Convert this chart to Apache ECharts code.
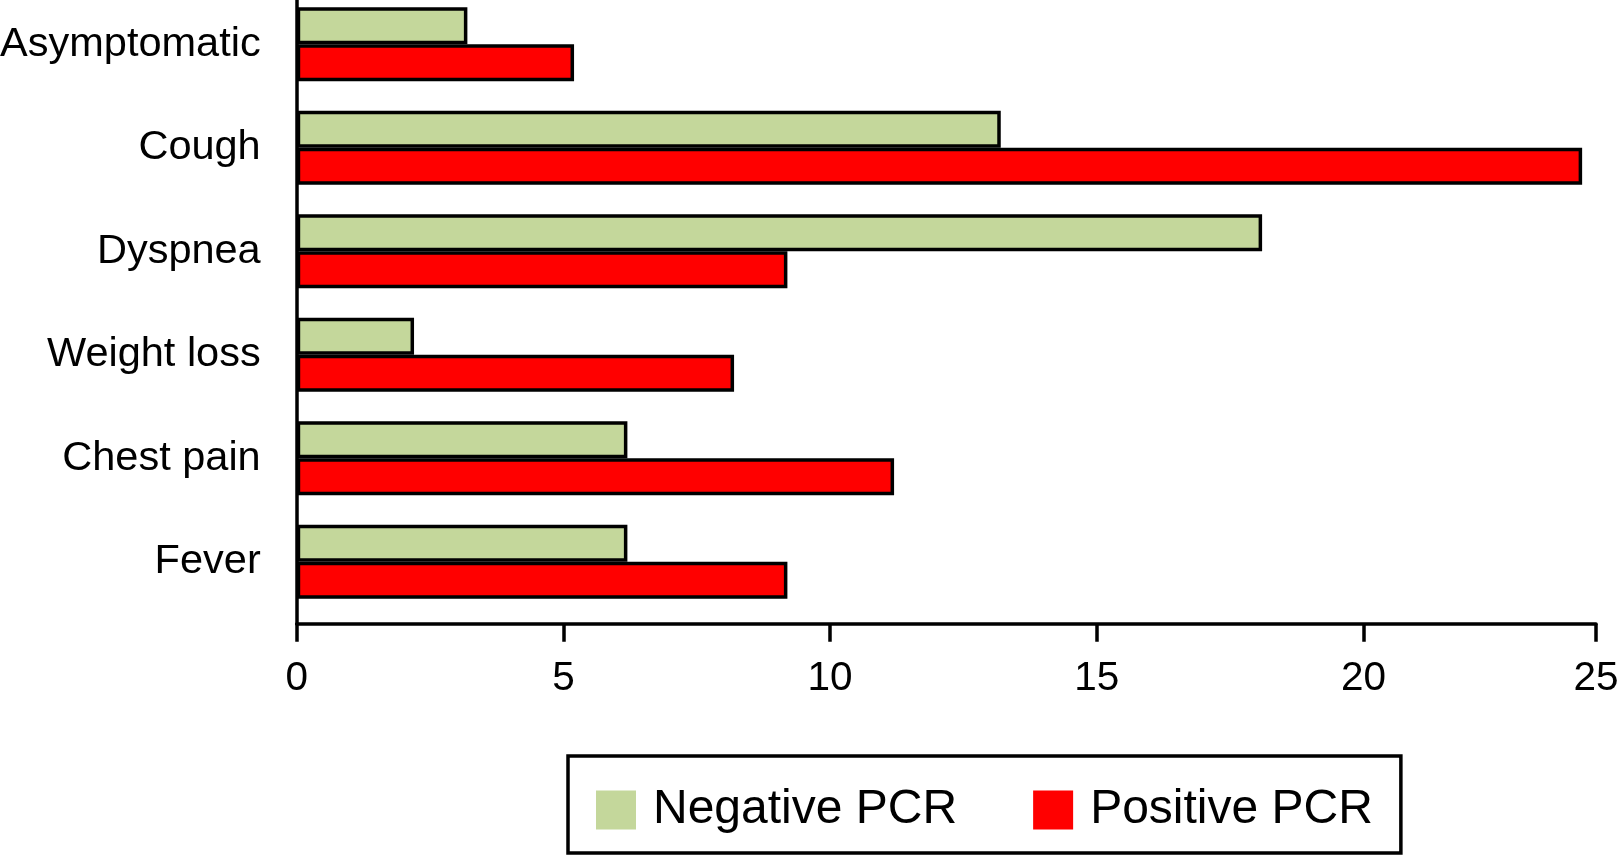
<!DOCTYPE html>
<html><head><meta charset="utf-8">
<script src="https://cdn.jsdelivr.net/npm/echarts@6/dist/echarts.min.js"></script>
<style>html,body{margin:0;padding:0;background:#fff}#c{width:1620px;height:855px}</style>
</head><body><div id="c"></div>
<script>
const categories = ['Asymptomatic', 'Cough', 'Dyspnea', 'Weight loss', 'Chest pain', 'Fever'];
const negativePCR = [3.2, 13.2, 18.1, 2.2, 6.2, 6.2];
const positivePCR = [5.2, 24.1, 9.2, 8.2, 11.2, 9.2];
const seriesNames = ['Negative PCR', 'Positive PCR'];
const xTickLabels = ['0', '5', '10', '15', '20', '25'];
const xMin = 0, xMax = 24.36, xInterval = 5;

const FONT = '"Liberation Sans", Arial, Helvetica, sans-serif';
const chart = echarts.init(document.getElementById('c'), null, {renderer: 'canvas'});
const barBorder = {borderColor: '#000', borderWidth: 3.5};
chart.setOption({
  animation: false,
  backgroundColor: '#fff',
  textStyle: {fontFamily: FONT},
  grid: [
    {left: 296.7, right: 24, top: -7.44, height: 620.9, containLabel: false, outerBoundsMode: 'none'},
    {left: 296.7, right: 24, top: 0, height: 623.7, containLabel: false, outerBoundsMode: 'none'}
  ],
  xAxis: [
    {gridIndex: 0, type: 'value', min: xMin, max: xMax, interval: xInterval, show: false},
    {gridIndex: 1, type: 'value', min: xMin, max: xMax, interval: xInterval,
     axisLine: {show: true, lineStyle: {color: '#000', width: 3.5}},
     axisTick: {show: true, length: 18, lineStyle: {color: '#000', width: 3.5}},
     splitLine: {show: false},
     axisLabel: {show: true, showMinLabel: true, showMaxLabel: true, margin: 35,
       fontSize: 40.5, color: '#000', fontFamily: FONT,
       formatter: (v, i) => xTickLabels[i] !== undefined ? xTickLabels[i] : String(v)}}
  ],
  yAxis: [
    {gridIndex: 0, type: 'category', data: categories, inverse: true,
     axisLine: {show: false}, axisTick: {show: false}, splitLine: {show: false},
     axisLabel: {margin: 36, fontSize: 41.5, color: '#000', fontFamily: FONT}},
    {gridIndex: 1, type: 'value', min: 0, max: 1,
     axisLine: {show: true, onZero: false, lineStyle: {color: '#000', width: 3.5}},
     axisTick: {show: false}, axisLabel: {show: false}, splitLine: {show: false}}
  ],
  legend: {
    data: seriesNames,
    left: 568, top: 756,
    orient: 'horizontal',
    icon: 'rect',
    itemWidth: 40, itemHeight: 39, itemGap: 76,
    padding: [30, 28, 19, 28],
    borderColor: '#000', borderWidth: 3.5,
    itemStyle: {borderWidth: 0},
    textStyle: {fontSize: 48, color: '#000', fontFamily: FONT, padding: [0, 0, 0, 12]}
  },
  series: [
    {name: seriesNames[0], type: 'bar', xAxisIndex: 0, yAxisIndex: 0, data: negativePCR,
     barWidth: 37, barGap: '0%', itemStyle: Object.assign({color: '#c4d79b'}, barBorder)},
    {name: seriesNames[1], type: 'bar', xAxisIndex: 0, yAxisIndex: 0, data: positivePCR,
     barWidth: 37, barGap: '0%', itemStyle: Object.assign({color: '#ff0000'}, barBorder)}
  ]
});
</script></body></html>
